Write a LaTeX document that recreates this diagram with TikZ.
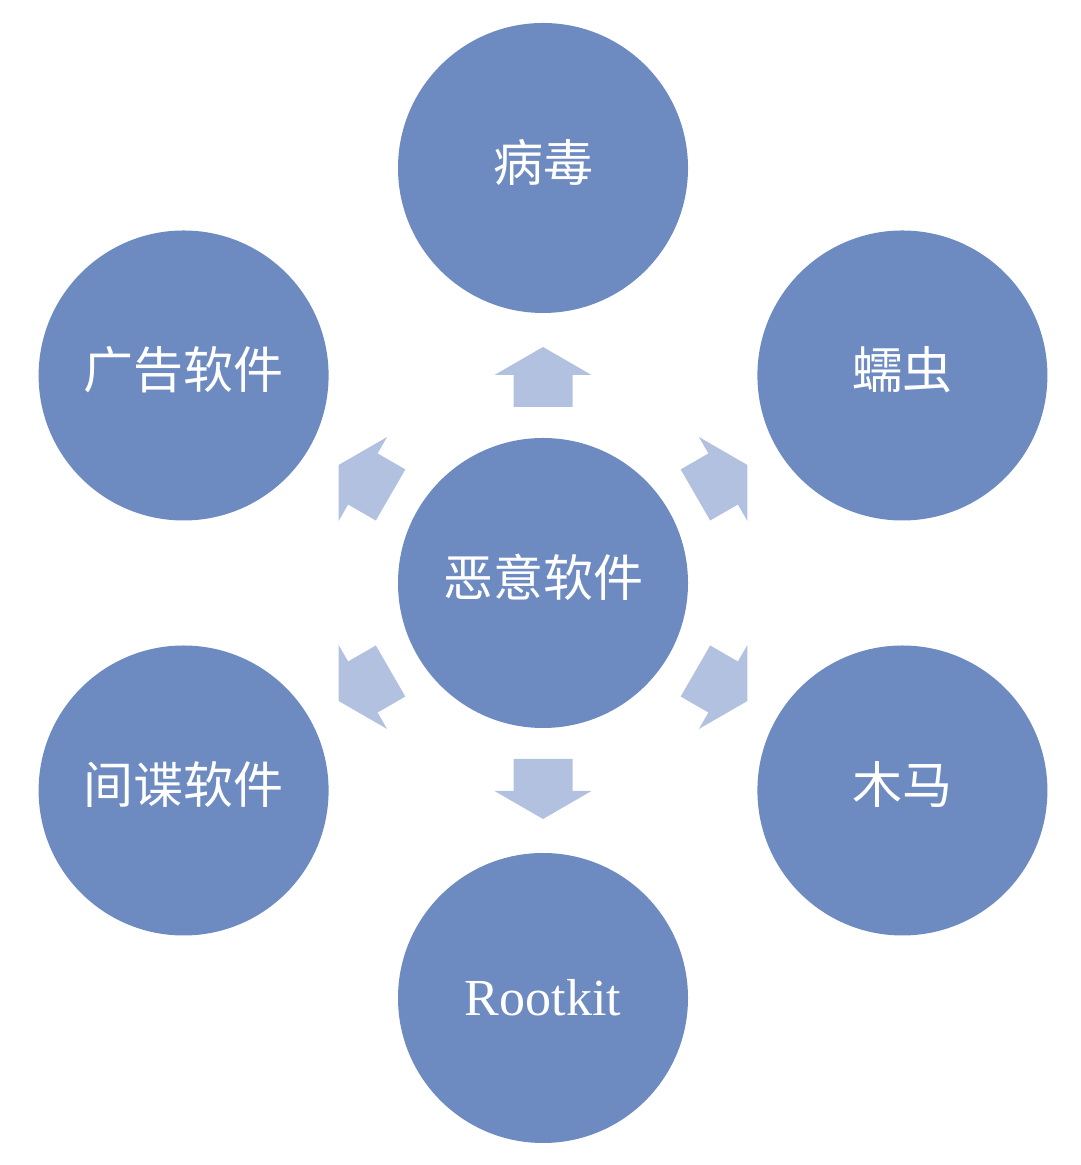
\documentclass[tikz,border=0pt]{standalone}
\usepackage{fontspec}
\usetikzlibrary{calc}
\newfontfamily\cjk{Noto Sans CJK SC}
\newfontfamily\latinserif{Liberation Serif}
\newcommand\liftlabel[1]{\raisebox{3pt}[\height][\depth]{#1}}
\definecolor{circblue}{HTML}{6E8BC1}
\definecolor{arrblue}{HTML}{B3C1E0}
\begin{document}
\begin{tikzpicture}[x=0.5pt,y=0.5pt,
  bubble/.style={circle,fill=circblue,draw=none,minimum size=145pt,inner sep=0pt,text=white,font=\cjk\fontsize{25pt}{30pt}\selectfont},
  blockarrow/.style={fill=arrblue,draw=none}]
\path[use as bounding box] (0,0) rectangle (1080,1165);
\coordinate (c) at (543,582);
\node[bubble] (center) at (c) {\liftlabel{恶意软件}};
\node[bubble] (virus) at ($(c)+(90:415)$) {\liftlabel{病毒}};
\node[bubble] (worm) at ($(c)+(30:415)$) {\liftlabel{蠕虫}};
\node[bubble] (trojan) at ($(c)+(-30:415)$) {\liftlabel{木马}};
\node[bubble,font=\latinserif\fontsize{26pt}{30pt}\selectfont] (rootkit) at ($(c)+(-90:415)$) {Rootkit};
\node[bubble] (spy) at ($(c)+(-150:415)$) {\liftlabel{间谍软件}};
\node[bubble] (adware) at ($(c)+(150:415)$) {\liftlabel{广告软件}};
\foreach \a in {90,30,-30,-90,-150,150}{
  \begin{scope}[shift={(center.center)},rotate=\a]
    \fill[blockarrow] (176,29.5) -- (208,29.5) -- (208,48.5) -- (236,0) -- (208,-48.5) -- (208,-29.5) -- (176,-29.5) -- cycle;
  \end{scope}
}
\end{tikzpicture}
\end{document}
